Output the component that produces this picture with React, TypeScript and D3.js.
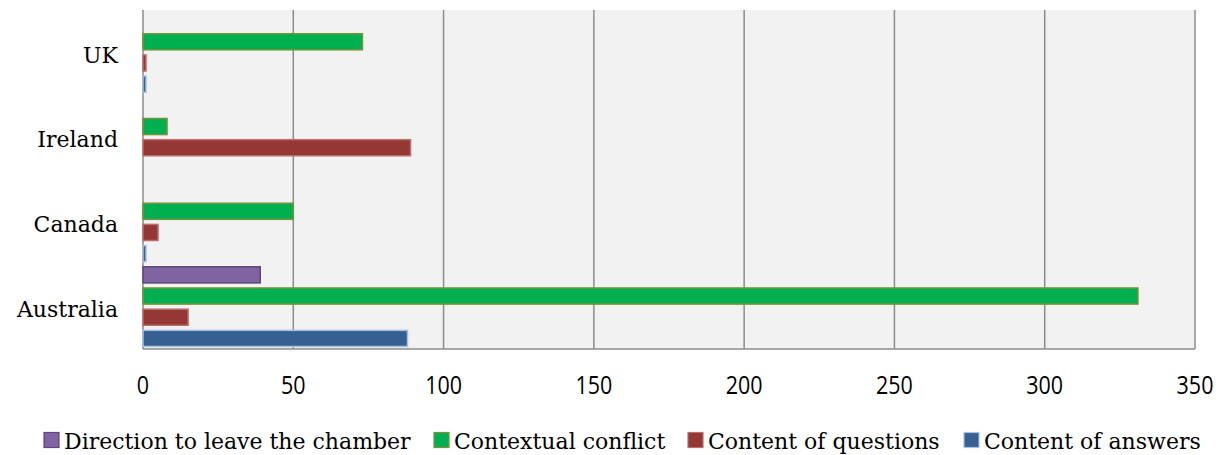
import React from "react";
import * as d3 from "d3";

const categories = ["UK", "Ireland", "Canada", "Australia"];
const seriesNames = [
  "Direction to leave the chamber",
  "Contextual conflict",
  "Content of questions",
  "Content of answers",
];
const direction = [0, 0, 0, 39];
const contextual = [73, 8, 50, 331];
const questions = [1, 89, 5, 15];
const answers = [1, 0, 1, 88];
const xTicks = [0, 50, 100, 150, 200, 250, 300, 350];

const fills = ["#8064A2", "#00B050", "#953735", "#376092"];
const strokes = ["#5C4776", "#77933C", "#B96F6D", "#A9BFDB"];

export default function App() {
  const W = 1222, H = 455;
  const left = 143, right = 1195, top = 10, bottom = 349;
  const x = d3.scaleLinear().domain([0, 350]).range([left, right]);
  const y = d3.scaleBand().domain(categories).range([top, bottom]).padding(0);
  const inner = d3.scaleBand().domain(seriesNames).range([0, y.bandwidth()]).paddingInner(0.24).paddingOuter(0.12);
  const values = [direction, contextual, questions, answers];

  const legendTextX = [64, 454, 708, 984];
  const serif = "'DejaVu Serif', serif";
  const sans = "'Open Sans', sans-serif";

  return (
    <svg width={W} height={H} style={{ position: "absolute", left: 0, top: 0 }}>
      <rect x={left} y={top} width={right - left} height={bottom - top} fill="#F2F2F2" />
      {xTicks.map((t) => (
        <line key={t} x1={x(t)} x2={x(t)} y1={top} y2={bottom} stroke="#8C8C8C" strokeWidth={1.5} />
      ))}
      <line x1={left} x2={right} y1={bottom} y2={bottom} stroke="#8C8C8C" strokeWidth={1.5} />
      {categories.map((c, ci) =>
        seriesNames.map((s, si) => {
          const v = values[si][ci];
          if (v <= 0) return null;
          const by = (y(c) as number) + (inner(s) as number);
          return (
            <rect
              key={c + s}
              x={x(0)}
              y={by}
              width={x(v) - x(0)}
              height={inner.bandwidth()}
              fill={fills[si]}
              stroke={strokes[si]}
              strokeWidth={1.5}
            />
          );
        })
      )}
      {categories.map((c) => (
        <text
          key={c}
          x={118}
          y={(y(c) as number) + y.bandwidth() / 2}
          dy="0.47em"
          textAnchor="end"
          fontFamily={serif}
          fontSize={22}
          fill="#000"
        >
          {c}
        </text>
      ))}
      {xTicks.map((t) => (
        <text
          key={t}
          transform={`translate(${x(t)},394) scale(0.86,1)`}
          textAnchor="middle"
          fontFamily={sans}
          fontSize={25}
          fill="#000"
        >
          {t}
        </text>
      ))}
      {seriesNames.map((s, i) => (
        <g key={s}>
          <rect x={legendTextX[i] - 20} y={432.5} width={15} height={15} fill={fills[i]} stroke={strokes[i]} strokeWidth={1.2} />
          <text x={legendTextX[i]} y={449} fontFamily={serif} fontSize={22} fill="#000">
            {s}
          </text>
        </g>
      ))}
    </svg>
  );
}
